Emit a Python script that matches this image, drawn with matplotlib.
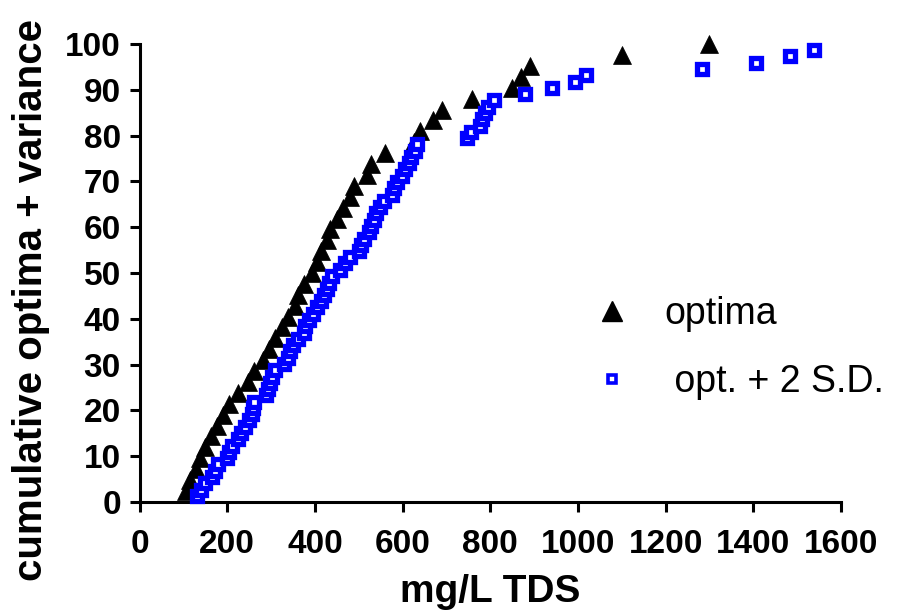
import matplotlib
matplotlib.use("Agg")
import matplotlib.pyplot as plt
from matplotlib.lines import Line2D

plt.rcParams['font.family'] = ['Liberation Sans', 'DejaVu Sans']

# optima (triangles)
optima_x = [105, 115, 128, 138, 150, 162, 177, 191, 204, 224, 248, 262, 282, 296,
            310, 324, 339, 355, 362, 375, 393, 405, 415, 427, 434, 450, 465, 480,
            489, 519, 529, 560, 625, 640, 669, 690, 759, 849, 869, 890, 1100, 1299]
optima_y = [2.4, 4.8, 7.1, 9.5, 11.9, 14.3, 16.7, 19.0, 21.4, 23.8, 26.2, 28.6,
            31.0, 33.3, 35.7, 38.1, 40.5, 42.9, 45.2, 47.6, 50.0, 52.4, 54.8, 57.1,
            59.5, 61.9, 64.3, 66.7, 69.0, 71.4, 73.8, 76.2, 78.6, 81.0, 83.3, 85.7,
            88.1, 90.5, 92.9, 95.2, 97.6, 100.0]

# optima + 2 S.D. (open squares)
sd_x = [130, 140, 150, 165, 172, 180, 200, 205, 212, 225,
        232, 241, 250, 256, 259, 262, 288, 293, 298, 302,
        310, 330, 338, 344, 351, 362, 374, 378, 386, 395,
        405, 414, 420, 427, 432, 440, 458, 468, 480, 500,
        505, 511, 524, 528, 534, 540, 548, 557, 575, 580,
        588, 598, 606, 615, 620, 628, 632, 748, 757, 777,
        782, 788, 795, 808, 880, 940, 993, 1018, 1282, 1405,
        1483, 1539]
sd_y = [1.4, 2.7, 4.1, 5.5, 6.8, 8.2, 9.6, 11.0, 12.3, 13.7,
        15.1, 16.4, 17.8, 19.2, 20.5, 21.9, 23.3, 24.7, 26.0, 27.4,
        28.8, 30.1, 31.5, 32.9, 34.2, 35.6, 37.0, 38.4, 39.7, 41.1,
        42.5, 43.8, 45.2, 46.6, 47.9, 49.3, 50.7, 52.1, 53.4, 54.8,
        56.2, 57.5, 58.9, 60.3, 61.6, 63.0, 64.4, 65.8, 67.1, 68.5,
        69.9, 71.2, 72.6, 74.0, 75.3, 76.7, 78.1, 79.5, 80.8, 82.2,
        83.6, 84.9, 86.3, 87.7, 89.0, 90.4, 91.8, 93.2, 94.5, 95.9,
        97.3, 98.6]

xticks = [0, 200, 400, 600, 800, 1000, 1200, 1400, 1600]
yticks = [0, 10, 20, 30, 40, 50, 60, 70, 80, 90, 100]

fig = plt.figure(figsize=(9.02, 6.13), dpi=100)
ax = fig.add_axes([0.1547, 0.1811, 0.7777, 0.7471])

ax.plot(optima_x, optima_y, linestyle='none', marker='^', markersize=13,
        color='black', markeredgewidth=0.5, clip_on=False, zorder=3)
ax.plot(sd_x, sd_y, linestyle='none', marker='s', markersize=7,
        markerfacecolor='white', markeredgecolor='#0000ff', markeredgewidth=3.8,
        clip_on=False, zorder=4)

ax.set_xlim(0, 1600)
ax.set_ylim(0, 100)
ax.set_xticks(xticks)
ax.set_yticks(yticks)
for s in ['top', 'right']:
    ax.spines[s].set_visible(False)
for s in ['left', 'bottom']:
    ax.spines[s].set_linewidth(2.2)
ax.tick_params(axis='both', direction='out', length=7.5, width=2.2, labelsize=24)
ax.tick_params(axis='x', pad=12)
ax.tick_params(axis='y', pad=6)
for lab in ax.get_xticklabels() + ax.get_yticklabels():
    lab.set_fontweight('bold')

ax.set_xlabel('mg/L TDS', fontsize=28, fontweight='bold', labelpad=10)
ax.set_ylabel('cumulative optima + variance', fontsize=29, fontweight='bold')
ax.yaxis.set_label_coords(-0.128, 0.44)

handles = [
    Line2D([], [], linestyle='none', marker='^', markersize=14, color='black'),
    Line2D([], [], linestyle='none', marker='s', markersize=5.5, markerfacecolor='white',
           markeredgecolor='#0000ff', markeredgewidth=2.6),
]
ax.legend(handles, ['optima', ' opt. + 2 S.D.'], loc='upper left',
          bbox_to_anchor=(0.62, 0.49), frameon=False, fontsize=27,
          handlelength=1.0, handletextpad=0.9, labelspacing=0.85, borderpad=0)

fig.savefig('out.png', dpi=100)
